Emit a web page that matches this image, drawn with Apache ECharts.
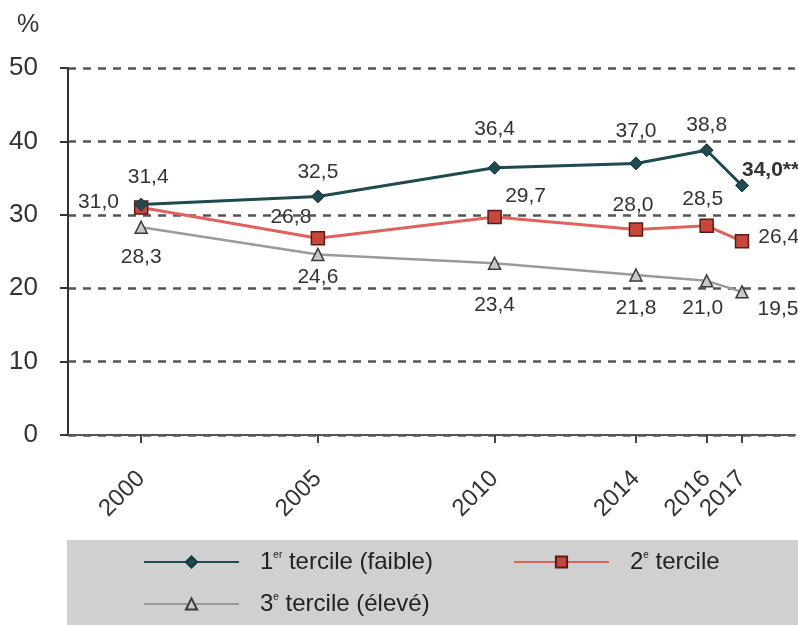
<!DOCTYPE html>
<html>
<head>
<meta charset="utf-8">
<script src="https://cdn.jsdelivr.net/npm/echarts@6/dist/echarts.min.js"></script>
<style>
    html, body { margin: 0; padding: 0; background: #fff; }
    #chart { width: 798px; height: 625px; }
</style>
</head>
<body>
<div id="chart"></div>
<script>
// chart values
const years = [2000, 2005, 2010, 2014, 2016, 2017];
const tercile1 = [31.4, 32.5, 36.4, 37.0, 38.8, 34.0];
const tercile2 = [31.0, 26.8, 29.7, 28.0, 28.5, 26.4];
const tercile3 = [28.3, 24.6, 23.4, 21.8, 21.0, 19.5];
const yTicks = [0, 10, 20, 30, 40, 50];

const FONT = "'Liberation Sans', Arial, sans-serif";
const TXT = '#333';

// where each value label sits around its point
const place1 = [
    { position: 'top', distance: 10, offset: [7, 0] },
    { position: 'top', distance: 7 },
    { position: 'top', distance: 21 },
    { position: 'top', distance: 15 },
    { position: 'top', distance: 8 },
    { position: 'right', distance: 5, offset: [-12, -15], fontWeight: 'bold', suffix: '**' }
];
const place2 = [
    { position: 'left', distance: 15, offset: [0, -5] },
    { position: 'top', distance: 3, offset: [-27, 0] },
    { position: 'top', distance: 3, offset: [31, 0] },
    { position: 'top', distance: 7, offset: [-3, 0] },
    { position: 'top', distance: 9, offset: [-4, 0] },
    { position: 'right', distance: 9, offset: [0, -4] }
];
const place3 = [
    { position: 'bottom', distance: 13 },
    { position: 'bottom', distance: 6 },
    { position: 'bottom', distance: 25 },
    { position: 'bottom', distance: 16 },
    { position: 'bottom', distance: 10, offset: [-4, 0] },
    { position: 'bottom', distance: 0, offset: [36, 0] }
];

function fmt(v) {
    return v.toFixed(1).replace('.', ',');
}

function buildData(values, places) {
    return values.map(function (v, i) {
        const p = places[i];
        const suffix = p.suffix || '';
        return {
            value: [years[i], v],
            label: {
                position: p.position,
                distance: p.distance,
                offset: p.offset || [0, 0],
                fontWeight: p.fontWeight || 'normal',
                formatter: function () { return fmt(v) + suffix; }
            }
        };
    });
}

const labelBase = {
    show: true,
    fontFamily: FONT,
    fontSize: 21,
    color: TXT
};

const legendText = {
    fontFamily: FONT,
    fontSize: 24,
    color: '#222',
    padding: [0, 0, 0, 16],
    rich: {
        sup: { fontFamily: FONT, fontSize: 10, color: '#222', verticalAlign: 'top', padding: [0, 0, 14, 0] }
    }
};

const names = ['1er tercile (faible)', '2e tercile', '3e tercile (élevé)'];
function legendFormatter(name) {
    if (name === names[0]) return '1{sup|er} tercile (faible)';
    if (name === names[1]) return '2{sup|e} tercile';
    return '3{sup|e} tercile (élevé)';
}

const myChart = echarts.init(document.getElementById('chart'));
myChart.setOption({
    backgroundColor: '#fff',
    animation: false,
    grid: { left: 68, top: 68, right: 3, bottom: 190, containLabel: false },
    graphic: [
        {
            type: 'rect', left: 67, top: 540, z: -10,
            shape: { width: 731, height: 85 },
            style: { fill: '#d0d0d0' }
        },
        {
            type: 'text', left: 17, top: 13,
            style: { text: '%', font: '25px ' + FONT, fill: TXT }
        }
    ],
    legend: [
        {
            data: [names[0]], left: 143, top: 550, padding: 0,
            itemWidth: 95, itemHeight: 14, formatter: legendFormatter, textStyle: legendText
        },
        {
            data: [names[1]], left: 513, top: 550, padding: 0,
            itemWidth: 95, itemHeight: 14, formatter: legendFormatter, textStyle: legendText
        },
        {
            data: [names[2]], left: 143, top: 592, padding: 0,
            itemWidth: 95, itemHeight: 14, formatter: legendFormatter, textStyle: legendText
        }
    ],
    xAxis: {
        type: 'value',
        min: 1997.93,
        max: 2018.5,
        splitLine: { show: false },
        axisLine: { show: true, lineStyle: { color: '#555', width: 2 } },
        axisTick: {
            show: true, length: 8, customValues: years,
            lineStyle: { color: '#444', width: 2 }
        },
        axisLabel: {
            customValues: years,
            rotate: 45,
            margin: 40,
            fontFamily: FONT,
            fontSize: 24,
            color: TXT,
            formatter: function (v) { return String(v); }
        }
    },
    yAxis: {
        type: 'value',
        min: yTicks[0],
        max: yTicks[yTicks.length - 1],
        interval: 10,
        axisLine: { show: true, lineStyle: { color: '#333', width: 2 } },
        axisTick: { show: true, length: 8, lineStyle: { color: '#333', width: 2 } },
        axisLabel: { margin: 30, fontFamily: FONT, fontSize: 26, color: TXT },
        splitLine: {
            show: true,
            lineStyle: { color: '#555', width: 2.5, type: [8, 7] }
        }
    },
    series: [
        {
            name: names[2],
            type: 'line',
            data: buildData(tercile3, place3),
            symbol: 'triangle',
            symbolSize: 12,
            itemStyle: { color: '#c8c8c8', borderColor: '#3a3a3a', borderWidth: 1.5 },
            lineStyle: { color: '#9a9a9a', width: 2.5 },
            label: labelBase,
            z: 2
        },
        {
            name: names[1],
            type: 'line',
            data: buildData(tercile2, place2),
            symbol: 'rect',
            symbolSize: 13,
            itemStyle: { color: '#c8463c', borderColor: '#5e1a16', borderWidth: 1.5 },
            lineStyle: { color: '#e0625c', width: 3 },
            label: labelBase,
            z: 3
        },
        {
            name: names[0],
            type: 'line',
            data: buildData(tercile1, place1),
            symbol: 'diamond',
            symbolSize: 13,
            itemStyle: { color: '#1e4a50', borderColor: '#16393d', borderWidth: 1 },
            lineStyle: { color: '#1e4a50', width: 3 },
            label: labelBase,
            z: 4
        }
    ]
});
</script>
</body>
</html>
